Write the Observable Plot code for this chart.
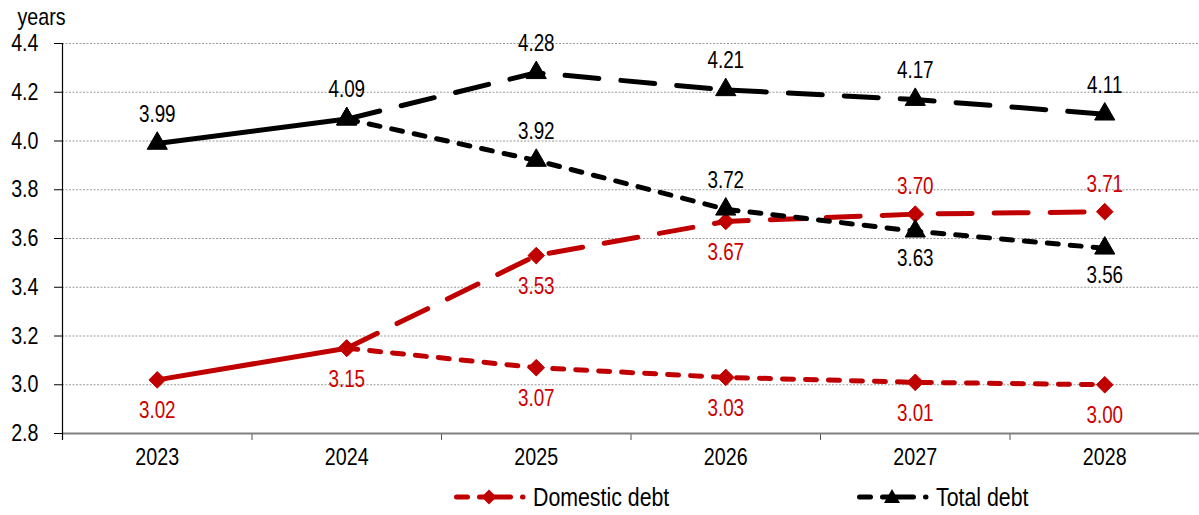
<!DOCTYPE html>
<html>
<head>
<meta charset="utf-8">
<script src="https://cdn.jsdelivr.net/npm/d3@7"></script>
<script src="https://cdn.jsdelivr.net/npm/@observablehq/plot@0.6"></script>
<style>
  html, body { margin: 0; padding: 0; background: #fff; }
  body { width: 1199px; height: 515px; overflow: hidden;
         font-family: "Liberation Sans", Arial, sans-serif; }
  #chart svg { display: block; }
  #legend { position: relative; height: 40px; width: 1199px; }
  .swatch { position: absolute; top: 12px; display: block; }
  .name { position: absolute; top: 0; height: 44px; line-height: 44px; font-size: 26px; color: #000;
          white-space: nowrap; transform: scaleX(0.82); transform-origin: left center; }
</style>
</head>
<body>
<div id="chart"></div>
<div id="legend"></div>
<script>
// Average remaining maturity of public debt, in years
const years = [2023, 2024, 2025, 2026, 2027, 2028];
const yTicks = [2.8, 3.0, 3.2, 3.4, 3.6, 3.8, 4.0, 4.2, 4.4];

// Outturn 2023–2024
const totalActual = [3.99, 4.09];
const domesticActual = [3.02, 3.15];
// Two projection paths 2024–2028
const totalUpper = [4.09, 4.28, 4.21, 4.17, 4.11];
const totalLower = [4.09, 3.92, 3.72, 3.63, 3.56];
const domesticUpper = [3.15, 3.53, 3.67, 3.70, 3.71];
const domesticLower = [3.15, 3.07, 3.03, 3.01, 3.00];

const RED = "#C00000";
const FONT = "'Liberation Sans', Arial, sans-serif";
const NARROW = 0.82; // horizontal squeeze giving a narrow face

const actualYears = years.slice(0, 2);
const projYears = years.slice(1);
const toRows = (xs, vs) => xs.map((year, i) => ({year, value: vs[i]}));

const tA = toRows(actualYears, totalActual);
const tU = toRows(projYears, totalUpper);
const tL = toRows(projYears, totalLower);
const dA = toRows(actualYears, domesticActual);
const dU = toRows(projYears, domesticUpper);
const dL = toRows(projYears, domesticLower);

// value labels: lower total path at 2027–2028 sits below its point,
// upper domestic path at 2027–2028 sits above; the rest follow the series
const totalLabels = [...tA, ...tU.slice(1), ...tL.slice(1)];
const totalBelow = tL.filter(d => d.year >= 2027);
const totalAbove = totalLabels.filter(d => !totalBelow.includes(d));
const domesticLabels = [...dA, ...dU.slice(1), ...dL.slice(1)];
const domesticAbove = dU.filter(d => d.year >= 2027);
const domesticBelow = domesticLabels.filter(d => !domesticAbove.includes(d));

const boundaries = d3.range(years[0] - 0.5, years[years.length - 1] + 1, 1);

const lineStyle = {x: "year", y: "value", strokeWidth: 5, strokeLinecap: "round", strokeLinejoin: "round"};
const longDash = "34,22";
const shortDash = "11,12";
const fmt = d => d.value.toFixed(2);

const chart = Plot.plot({
  width: 1199,
  height: 475,
  marginLeft: 62,
  marginRight: 0,
  marginTop: 43,
  marginBottom: 42,
  style: {fontFamily: FONT, background: "#fff", overflow: "visible"},
  x: {type: "linear", domain: [years[0] - 0.5, years[years.length - 1] + 0.5]},
  y: {domain: [2.8, 4.4]},
  marks: [
    Plot.gridY(yTicks, {stroke: "#9a9a9a", strokeOpacity: 1, strokeDasharray: "2,1.5", strokeWidth: 1}),
    Plot.axisY(yTicks, {tickSize: 8, tickPadding: 16, fontSize: 24, tickFormat: d => d.toFixed(1), label: null, stroke: "#000"}),
    Plot.axisX(boundaries, {tickSize: 7, tickFormat: () => "", label: null, stroke: "#555"}),
    Plot.axisX(years, {tickSize: 0, tickPadding: 14, fontSize: 24, tickFormat: d => String(d), label: null}),
    Plot.ruleY([2.8], {stroke: "#808080", strokeWidth: 2}),
    Plot.ruleX([years[0] - 0.5], {stroke: "#000", strokeWidth: 1.2, insetBottom: -7}),
    Plot.text(["years"], {frameAnchor: "top-left", dx: -21, dy: -36, fontSize: 24, textAnchor: "middle", fill: "#000"}),

    // Domestic debt
    Plot.line(dA, {...lineStyle, stroke: RED}),
    Plot.line(dU, {...lineStyle, stroke: RED, strokeDasharray: longDash}),
    Plot.line(dL, {...lineStyle, stroke: RED, strokeDasharray: shortDash}),
    Plot.dot([...dA, ...dU, ...dL], {x: "year", y: "value", symbol: "diamond2", r: 7.5, fill: RED, stroke: RED, strokeWidth: 1}),

    // Total debt
    Plot.line(tA, {...lineStyle, stroke: "#000"}),
    Plot.line(tU, {...lineStyle, stroke: "#000", strokeDasharray: longDash}),
    Plot.line(tL, {...lineStyle, stroke: "#000", strokeDasharray: shortDash}),
    Plot.dot([...tA, ...tU, ...tL], {x: "year", y: "value", symbol: "triangle", r: 7.5, fill: "#000", stroke: "#000", strokeWidth: 1}),

    // value labels
    Plot.text(totalAbove, {x: "year", y: "value", text: fmt, dy: -29, fontSize: 23, fill: "#000"}),
    Plot.text(totalBelow, {x: "year", y: "value", text: fmt, dy: 27, fontSize: 23, fill: "#000"}),
    Plot.text(domesticAbove, {x: "year", y: "value", text: fmt, dy: -27, fontSize: 23, fill: "#CC0000"}),
    Plot.text(domesticBelow, {x: "year", y: "value", text: fmt, dy: 31, fontSize: 23, fill: "#CC0000"})
  ]
});

// squeeze every text horizontally about its own anchor point
chart.querySelectorAll("text").forEach(t => {
  const x = parseFloat(t.getAttribute("x") || 0);
  const y = parseFloat(t.getAttribute("y") || 0);
  const prev = t.getAttribute("transform") || "";
  t.setAttribute("transform", `${prev} translate(${x},${y}) scale(${NARROW},1) translate(${-x},${-y})`.trim());
});
document.getElementById("chart").append(chart);

// legend below the plot
const series = [
  {name: "Domestic debt", color: RED, marker: "diamond", swatchLeft: 451, textLeft: 533},
  {name: "Total debt", color: "#000", marker: "triangle", swatchLeft: 854, textLeft: 936}
];
const legend = document.getElementById("legend");
const ns = "http://www.w3.org/2000/svg";
for (const s of series) {
  const svg = document.createElementNS(ns, "svg");
  svg.setAttribute("class", "swatch");
  svg.setAttribute("width", 80);
  svg.setAttribute("height", 20);
  svg.style.left = s.swatchLeft + "px";
  // dash, dash carrying the marker, dot
  const line = document.createElementNS(ns, "line");
  line.setAttribute("x1", 5.5); line.setAttribute("x2", 73);
  line.setAttribute("y1", 10); line.setAttribute("y2", 10);
  line.setAttribute("stroke", s.color);
  line.setAttribute("stroke-width", 5);
  line.setAttribute("stroke-linecap", "round");
  line.setAttribute("stroke-dasharray", "11,12,31,12,0.5,40");
  svg.append(line);
  const cx = 38;
  const m = document.createElementNS(ns, "path");
  m.setAttribute("d", s.marker === "diamond"
    ? `M${cx},2.5L${cx + 7.5},10L${cx},17.5L${cx - 7.5},10Z`
    : `M${cx},2L${cx + 8},16L${cx - 8},16Z`);
  m.setAttribute("fill", s.color);
  svg.append(m);
  legend.append(svg);
  const t = document.createElement("div");
  t.className = "name";
  t.style.left = s.textLeft + "px";
  t.textContent = s.name;
  legend.append(t);
}
</script>
</body>
</html>
